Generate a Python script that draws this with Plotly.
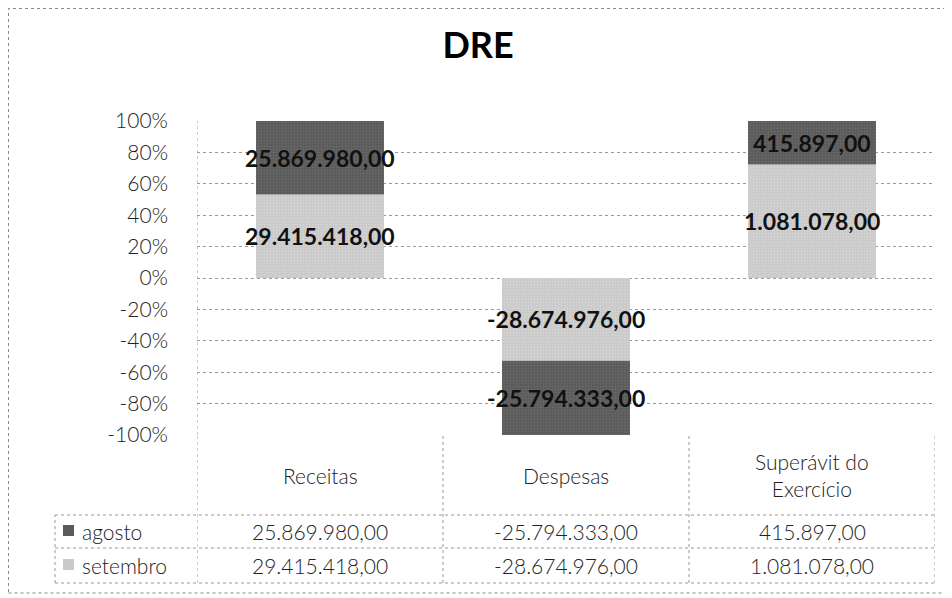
import plotly.graph_objects as go

categories = ["Receitas", "Despesas", "Superávit do Exercício"]
category_labels = ["Receitas", "Despesas", "Superávit do<br>Exercício"]
series_names = ["agosto", "setembro"]
agosto = [25869980.00, -25794333.00, 415897.00]
setembro = [29415418.00, -28674976.00, 1081078.00]
y_ticks = [100, 80, 60, 40, 20, 0, -20, -40, -60, -80, -100]
y_tick_labels = ["100%", "80%", "60%", "40%", "20%", "0%", "-20%", "-40%", "-60%", "-80%", "-100%"]

COL_AG = "#5a5a5a"
COL_SE = "#c9c9c9"
FONT = "Lato"


def fmt(v):
    s = f"{abs(v):,.2f}"
    s = s.replace(",", "X").replace(".", ",").replace("X", ".")
    return ("-" if v < 0 else "") + s


totals = [abs(a) + abs(s) for a, s in zip(agosto, setembro)]
pct_ag = [a / t * 100 for a, t in zip(agosto, totals)]
pct_se = [s / t * 100 for s, t in zip(setembro, totals)]

# page body adds an 8px offset; layout positions below are given in page pixels
OFF = 8
W, H = 952, 598
PL, PR, PT, PB = 197, 935, 121, 435  # plot area in page pixels
L, R, T, B = PL - OFF, W - (PR - OFF), PT - OFF, H - (PB - OFF)
PW, PH = PR - PL, PB - PT


def px(x):
    return (x - PL) / PW


def py(y):
    return (PB - y) / PH


fig = go.Figure()
for name, pct, col, fg in [("setembro", pct_se, COL_SE, "#e2e2e2"), ("agosto", pct_ag, COL_AG, "#7a7a7a")]:
    fig.add_trace(go.Bar(
        x=categories, y=pct, name=name,
        marker=dict(color=col, line=dict(width=0),
                    pattern=dict(shape=".", fgcolor=fg, bgcolor=col, size=3, solidity=0.35)),
        hoverinfo="skip", showlegend=False,
    ))

annotations = []
lab_font = dict(family=FONT, size=23, color="#111111", weight="bold")
for i, c in enumerate(categories):
    annotations.append(dict(x=c, xref="x", y=pct_se[i] / 2, yref="y", text=fmt(setembro[i]),
                            showarrow=False, font=lab_font, xanchor="center", yanchor="middle"))
    annotations.append(dict(x=c, xref="x", y=pct_se[i] + pct_ag[i] / 2, yref="y", text=fmt(agosto[i]),
                            showarrow=False, font=lab_font, xanchor="center", yanchor="middle"))

shapes = []
grid = dict(color="#9a9a9a", width=1, dash="dot")
shapes.append(dict(type="rect", xref="paper", yref="paper", x0=px(8.5), x1=px(947), y0=py(593), y1=py(8.5),
                   line=dict(color="#8a8a8a", width=1, dash="dot")))
for xb in [-0.5, 0.5, 1.5, 2.5]:
    shapes.append(dict(type="line", xref="x", yref="paper", x0=xb, x1=xb, y0=py(583), y1=0, line=grid))
shapes.append(dict(type="line", xref="paper", yref="paper", x0=px(55), x1=px(55), y0=py(583), y1=py(515), line=grid))
shapes.append(dict(type="line", xref="x", yref="paper", x0=-0.5, x1=-0.5, y0=0, y1=1, line=grid))
for yy in [515, 548, 583]:
    shapes.append(dict(type="line", xref="paper", yref="paper", x0=px(55), x1=1, y0=py(yy), y1=py(yy), line=grid))
for yy, col in [(531, COL_AG), (565, COL_SE)]:
    shapes.append(dict(type="rect", xref="paper", yref="paper", x0=px(63), x1=px(74), y0=py(yy + 5), y1=py(yy - 6),
                       fillcolor=col, line=dict(width=0)))

tf = dict(family=FONT, size=21, color="#222222", weight=300)
for i, lab in enumerate(category_labels):
    annotations.append(dict(x=categories[i], xref="x", y=py(475), yref="paper", text=lab, showarrow=False,
                            font=tf, xanchor="center", yanchor="middle", align="center"))
    annotations.append(dict(x=categories[i], xref="x", y=py(531), yref="paper", text=fmt(agosto[i]),
                            showarrow=False, font=tf, xanchor="center", yanchor="middle"))
    annotations.append(dict(x=categories[i], xref="x", y=py(565), yref="paper", text=fmt(setembro[i]),
                            showarrow=False, font=tf, xanchor="center", yanchor="middle"))
for name, yy in zip(series_names, [531, 565]):
    annotations.append(dict(x=px(80), xref="paper", y=py(yy), yref="paper", text=name, showarrow=False,
                            font=tf, xanchor="left", yanchor="middle"))

fig.update_layout(
    width=W, height=H,
    margin=dict(l=L, r=R, t=T, b=B, autoexpand=False),
    paper_bgcolor="white", plot_bgcolor="white",
    barmode="relative", bargap=0.48,
    title=dict(text="<b>DRE</b>", x=(478 - OFF) / W, xref="container", xanchor="center",
               y=(H - (45 - OFF)) / H, yref="container",
               yanchor="middle", font=dict(family=FONT, size=36, color="#000000")),
    xaxis=dict(range=[-0.5, 2.5], showticklabels=False, showgrid=False, zeroline=False, showline=False,
               ticks=""),
    yaxis=dict(range=[-100, 100], tickvals=y_ticks, ticktext=y_tick_labels, showgrid=True,
               gridcolor="#9a9a9a", griddash="dot", gridwidth=1, zeroline=False, showline=False,
               ticks="", ticklabelstandoff=28,
               tickfont=dict(family=FONT, size=21, color="#222222", weight=300)),
    shapes=shapes, annotations=annotations,
    font=dict(family=FONT),
)

fig.write_html("out.html")
